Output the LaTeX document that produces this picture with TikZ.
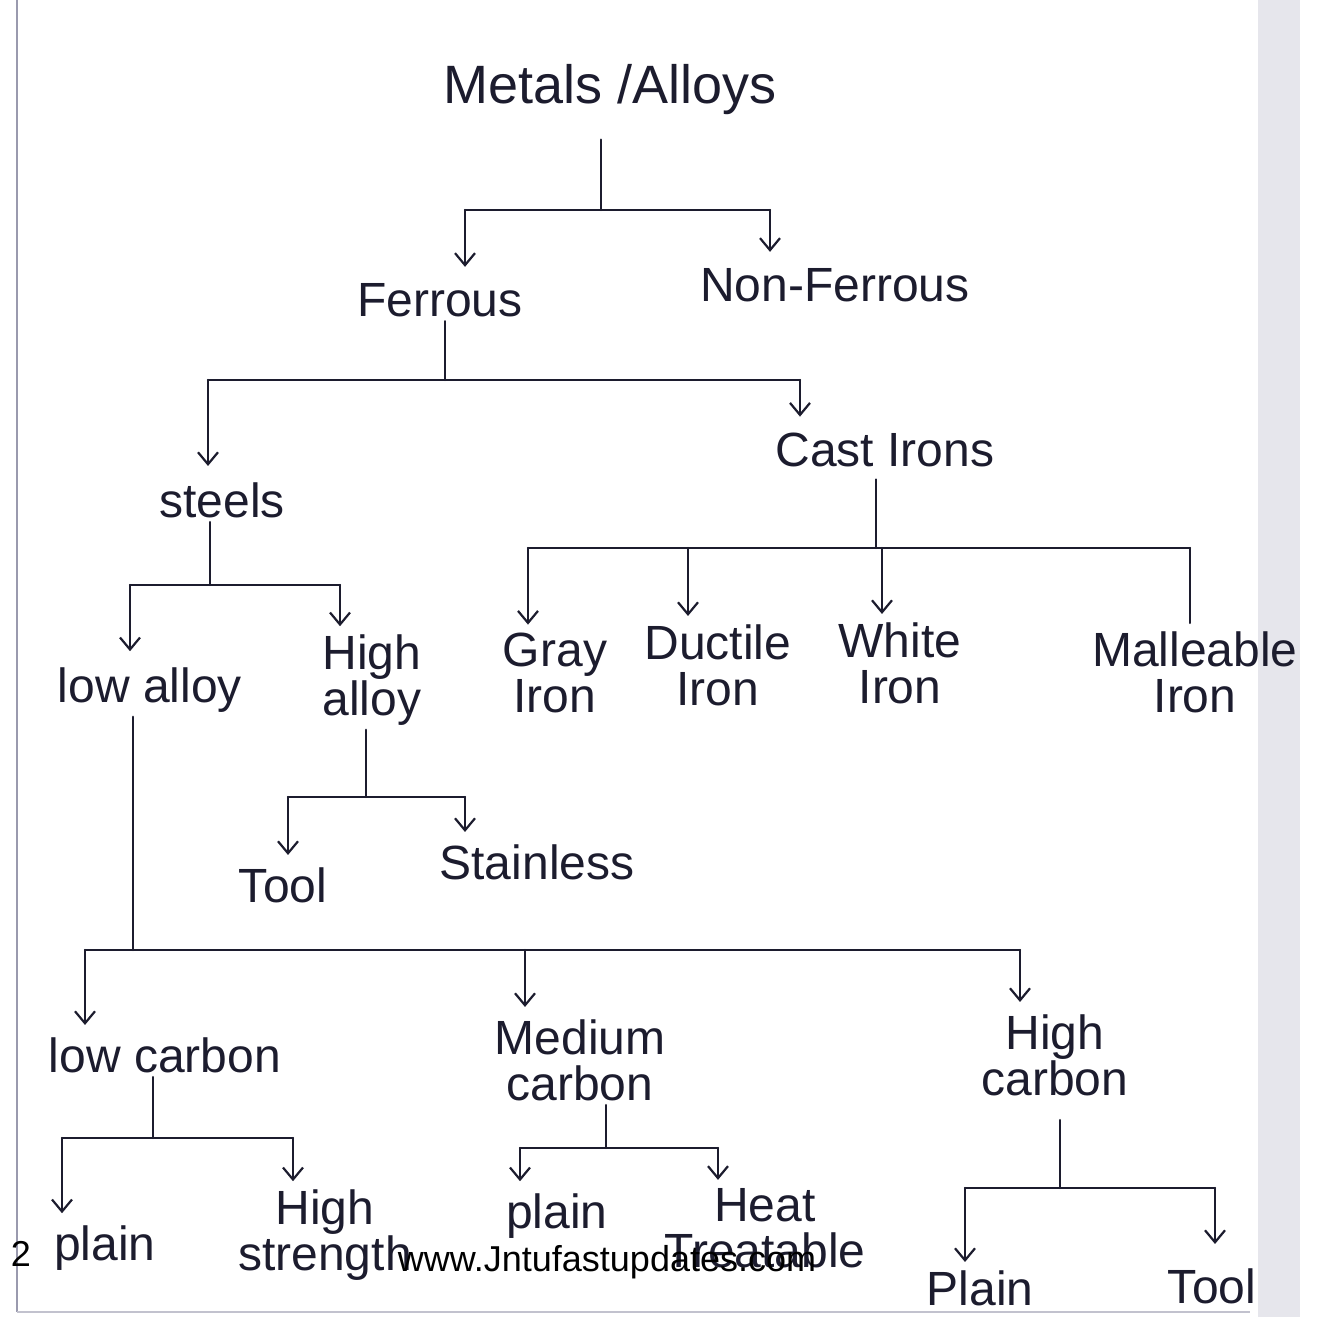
\documentclass[tikz,border=0pt]{standalone}
\usepackage{fontspec}
\setmainfont{Liberation Sans}
\usetikzlibrary{arrows.meta}
\definecolor{ink}{HTML}{1C1C2E}
\definecolor{pageedge}{HTML}{9A9AAE}
\definecolor{pagestrip}{HTML}{E6E6EC}
\begin{document}
\begin{tikzpicture}[x=0.5pt,y=-0.5pt,
 lbl/.style={font=\fontsize{24}{23}\selectfont, align=center, inner sep=2pt, text=ink},
 ln/.style={draw=ink, line width=1.1pt, line cap=round, line join=round},
 arr/.style={ln, -{Straight Barb[length=6pt,width=10pt,line width=1.1pt]}},
 wm/.style={font=\fontsize{18}{20}\selectfont, text=black, inner sep=0pt},
]
\useasboundingbox (0,0) rectangle (1322,1317);
\fill[white] (0,0) rectangle (1322,1317);
% scanned page edges
\fill[pagestrip] (1258,0) rectangle (1300,1317);
\draw[pageedge, line width=0.8pt] (17,0) -- (17,1312);
\draw[pageedge!60, line width=1pt] (17,1312) -- (1250,1312);

% ---------- nodes ----------
\node[lbl, font=\fontsize{27}{26}\selectfont] (ma) at (610,90) {Metals /Alloys};
\node[lbl] (fe) at (440,300) {Ferrous};
\node[lbl] (nf) at (835,285) {Non-Ferrous};
\node[lbl] (st) at (222,500) {steels};
\node[lbl] (ci) at (885,450) {Cast Irons};
\node[lbl] (la) at (150,690) {low alloy};
\node[lbl] (ha) at (372,680) {High\\alloy};
\node[lbl] (gi) at (555,673) {Gray\\Iron};
\node[lbl] (di) at (718,665) {Ductile\\Iron};
\node[lbl] (wi) at (900,663) {White\\Iron};
\node[lbl] (mi) at (1195,672) {Malleable\\Iron};
\node[lbl] (tl) at (283,885) {Tool};
\node[lbl] (ss) at (537,862) {Stainless};
\node[lbl] (lc) at (165,1055) {low carbon};
\node[lbl] (mc) at (580,1060) {Medium\\carbon};
\node[lbl] (hc) at (1055,1055) {High\\carbon};
\node[lbl] (pa) at (105,1248) {plain};
\node[lbl] (hs) at (325,1235) {High\\strength};
\node[lbl] (pb) at (557,1216) {plain};
\node[lbl] (ht) at (765,1228) {Heat\\Treatable};
\node[lbl] (pc) at (980,1288) {Plain};
\node[lbl] (tm) at (1212,1286) {Tool};

% ---------- junction coordinates ----------
\coordinate (j1) at (601,210); \coordinate (a1) at (465,210); \coordinate (b1) at (770,210);
\coordinate (j2) at (445,380); \coordinate (a2) at (208,380); \coordinate (b2) at (800,380);
\coordinate (j3) at (210,585); \coordinate (a3) at (130,585); \coordinate (b3) at (340,585);
\coordinate (j4) at (366,797); \coordinate (a4) at (288,797); \coordinate (b4) at (465,797);
\coordinate (j5) at (876,548); \coordinate (a5) at (528,548); \coordinate (c5) at (688,548);
\coordinate (d5) at (882,548); \coordinate (b5) at (1190,548);
\coordinate (j6) at (133,950); \coordinate (a6) at (85,950); \coordinate (c6) at (525,950);
\coordinate (b6) at (1020,950);
\coordinate (j7) at (153,1138); \coordinate (a7) at (62,1138); \coordinate (b7) at (293,1138);
\coordinate (j8) at (606,1148); \coordinate (a8) at (520,1148); \coordinate (b8) at (718,1148);
\coordinate (j9) at (1060,1188); \coordinate (a9) at (965,1188); \coordinate (b9) at (1215,1188);

% ---------- connectors ----------
% Metals/Alloys
\draw[ln] ([yshift=-10pt]j1 |- ma.south) -- (j1);
\draw[ln] (a1) -- (b1);
\draw[arr] (a1) -- ([yshift=6pt]a1 |- fe.north);
\draw[arr] (b1) -- ([yshift=6pt]b1 |- nf.north);
% Ferrous
\draw[ln] (j2 |- fe.south) -- (j2);
\draw[ln] (a2) -- (b2);
\draw[arr] (a2) -- ([yshift=6pt]a2 |- st.north);
\draw[arr] (b2) -- ([yshift=6pt]b2 |- ci.north);
% steels
\draw[ln] (j3 |- st.south) -- (j3);
\draw[ln] (a3) -- (b3);
\draw[arr] (a3) -- ([yshift=6pt]a3 |- la.north);
\draw[arr] (b3) -- ([yshift=2pt]b3 |- ha.north);
% High alloy
\draw[ln] (j4 |- ha.south) -- (j4);
\draw[ln] (a4) -- (b4);
\draw[arr] (a4) -- ([yshift=4pt]a4 |- tl.north);
\draw[arr] (b4) -- ([yshift=4pt]b4 |- ss.north);
% Cast Irons
\draw[ln] ([yshift=-4pt]j5 |- ci.south) -- (j5);
\draw[ln] (a5) -- (b5);
\draw[arr] (a5) -- ([yshift=2pt]a5 |- gi.north);
\draw[arr] (c5) -- ([yshift=2pt]c5 |- di.north);
\draw[arr] (d5) -- ([yshift=2pt]d5 |- wi.north);
\draw[ln] (b5) -- ([yshift=2pt]b5 |- mi.north);
% low alloy
\draw[ln] (j6 |- la.south) -- (j6);
\draw[ln] (a6) -- (b6);
\draw[arr] (a6) -- ([yshift=4pt]a6 |- lc.north);
\draw[arr] (c6) -- ([yshift=4pt]c6 |- mc.north);
\draw[arr] (b6) -- ([yshift=4pt]b6 |- hc.north);
% low carbon
\draw[ln] (j7 |- lc.south) -- (j7);
\draw[ln] (a7) -- (b7);
\draw[arr] (a7) -- ([yshift=4pt]a7 |- pa.north);
\draw[arr] (b7) -- ([yshift=2pt]b7 |- hs.north);
% Medium carbon
\draw[ln] (j8 |- mc.south) -- (j8);
\draw[ln] (a8) -- (b8);
\draw[arr] (a8) -- ([yshift=4pt]a8 |- pb.north);
\draw[arr] (b8) -- ([yshift=2pt]b8 |- ht.north);
% High carbon
\draw[ln] ([yshift=-10pt]j9 |- hc.south) -- (j9);
\draw[ln] (a9) -- (b9);
\draw[arr] (a9) -- ([yshift=2pt]a9 |- pc.north);
\draw[arr] (b9) -- ([yshift=10pt]b9 |- tm.north);

% ---------- watermark ----------
\node[wm] (pg) at (21,1254) {2};
\node[wm] (url) at (607,1262) {www.Jntufastupdates.com};
\end{tikzpicture}
\end{document}
